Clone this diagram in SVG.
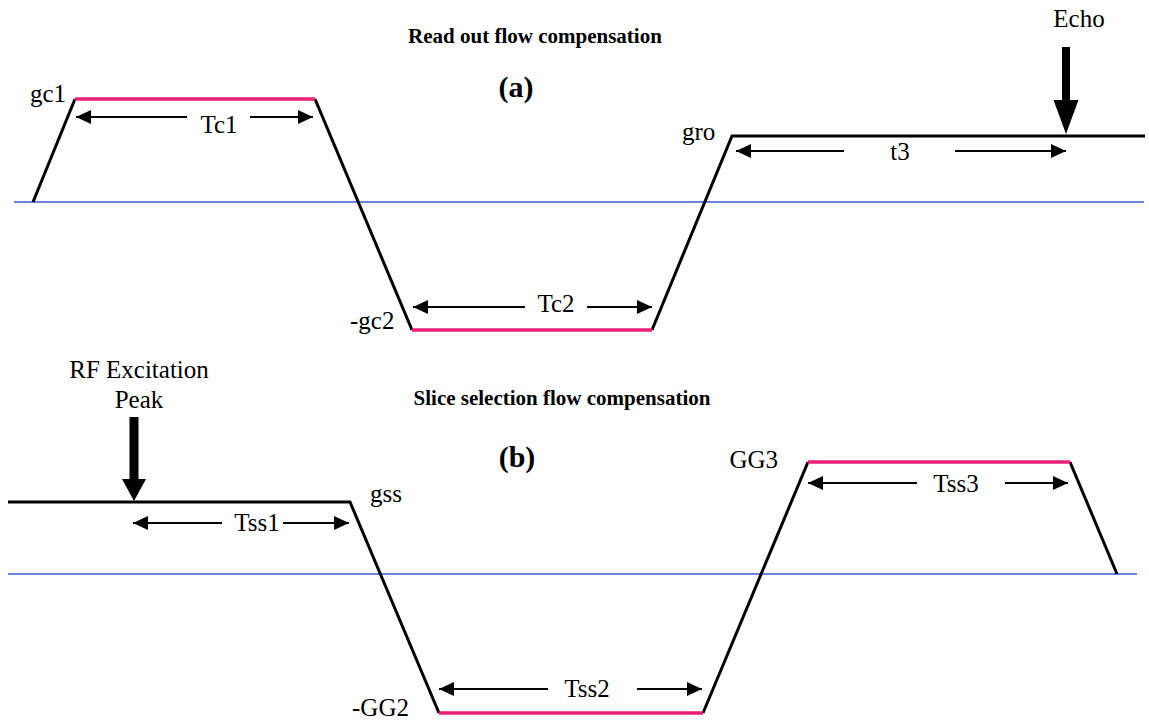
<svg xmlns="http://www.w3.org/2000/svg" width="1149" height="721" viewBox="0 0 1149 721">
<defs>
<marker id="ah" markerUnits="userSpaceOnUse" markerWidth="16" markerHeight="14" refX="15" refY="7" orient="auto">
<path d="M0,0 L15,7 L0,14 z" fill="#000"/>
</marker>
<style>
.lbl{font-family:"Liberation Serif","Times New Roman",serif;font-size:25px;fill:#000}
.ttl{font-family:"Liberation Serif","Times New Roman",serif;font-size:21px;font-weight:bold;fill:#000}
.pl{font-family:"Liberation Serif","Times New Roman",serif;font-size:30px;font-weight:bold;fill:#000}
.base{stroke:#3a5ad8;stroke-width:1.5;fill:none}
.grad{stroke:#000;stroke-width:3;fill:none;stroke-linejoin:miter}
.flat{stroke:#e8207a;stroke-width:3.5;fill:none}
.dim{stroke:#000;stroke-width:2;fill:none;marker-end:url(#ah)}
</style>
</defs>
<rect width="1149" height="721" fill="#fff"/>

<g id="panel-a">
<line class="base" x1="14" y1="202" x2="1144" y2="202"/>
<polyline class="grad" points="33,202 75,99"/>
<polyline class="grad" points="315,99 412,330"/>
<polyline class="grad" points="652,330 732,136 1145,136"/>
<line class="flat" x1="75" y1="99" x2="315" y2="99"/>
<line class="flat" x1="412" y1="330" x2="652" y2="330"/>
<text class="ttl" x="535" y="43" text-anchor="middle">Read out flow compensation</text>
<text class="pl" x="516" y="97" text-anchor="middle">(a)</text>
<text class="lbl" x="30" y="102">gc1</text>
<text class="lbl" x="350" y="329">-gc2</text>
<text class="lbl" x="682" y="140">gro</text>
<text class="lbl" x="1079" y="27" text-anchor="middle">Echo</text>
<g id="echo-arrow">
<rect x="1062" y="47" width="8" height="54" fill="#000"/>
<polygon points="1053.5,100 1078.5,100 1066,134" fill="#000"/>
</g>
</g>

<g id="panel-b">
<line class="base" x1="8" y1="574" x2="1137" y2="574"/>
<polyline class="grad" points="8,502 350,502 439,713"/>
<polyline class="grad" points="703,713 808,462"/>
<polyline class="grad" points="1070,462 1117,574"/>
<line class="flat" x1="439" y1="713" x2="703" y2="713"/>
<line class="flat" x1="808" y1="462" x2="1070" y2="462"/>
<text class="ttl" x="562" y="405" text-anchor="middle">Slice selection flow compensation</text>
<text class="pl" x="517" y="467" text-anchor="middle">(b)</text>
<text class="lbl" x="139" y="378" text-anchor="middle">RF Excitation</text>
<text class="lbl" x="139" y="408" text-anchor="middle">Peak</text>
<text class="lbl" x="370" y="502">gss</text>
<text class="lbl" x="778" y="468" text-anchor="end">GG3</text>
<text class="lbl" x="352" y="716">-GG2</text>
<g id="rf-arrow">
<rect x="129.5" y="417" width="9" height="63" fill="#000"/>
<polygon points="122,479 146,479 134,501" fill="#000"/>
</g>
</g>

<g id="connectors">
<line class="dim" x1="187" y1="117" x2="76" y2="117"/>
<line class="dim" x1="250" y1="117" x2="313" y2="117"/>
<line class="dim" x1="525" y1="307" x2="413" y2="307"/>
<line class="dim" x1="587" y1="307" x2="652" y2="307"/>
<line class="dim" x1="844" y1="151" x2="736" y2="151"/>
<line class="dim" x1="955" y1="151" x2="1066" y2="151"/>
<line class="dim" x1="222" y1="523" x2="133" y2="523"/>
<line class="dim" x1="283" y1="523" x2="349" y2="523"/>
<line class="dim" x1="548" y1="689" x2="439" y2="689"/>
<line class="dim" x1="637" y1="689" x2="702" y2="689"/>
<line class="dim" x1="917" y1="483" x2="808" y2="483"/>
<line class="dim" x1="1005" y1="483" x2="1068" y2="483"/>
<text class="lbl" x="219" y="133" text-anchor="middle">Tc1</text>
<text class="lbl" x="556" y="312" text-anchor="middle">Tc2</text>
<text class="lbl" x="900" y="160" text-anchor="middle">t3</text>
<text class="lbl" x="257" y="531" text-anchor="middle">Tss1</text>
<text class="lbl" x="587" y="697" text-anchor="middle">Tss2</text>
<text class="lbl" x="956" y="492" text-anchor="middle">Tss3</text>
</g>
</svg>
